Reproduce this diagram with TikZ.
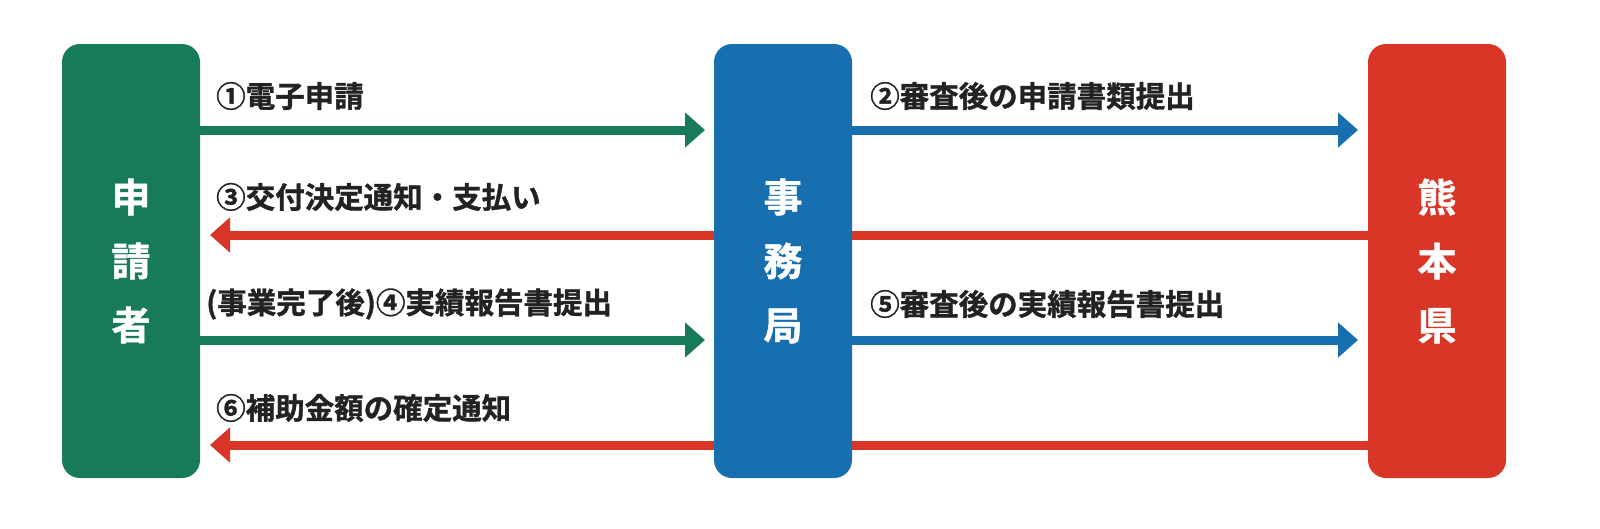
\documentclass[tikz,border=0pt]{standalone}
\usepackage{fontspec}
\setmainfont{Noto Sans CJK JP}[UprightFont=* Bold,UprightFeatures={FakeBold=1.2}]
\usetikzlibrary{arrows.meta}
\definecolor{cg}{HTML}{177A5A}
\definecolor{cb}{HTML}{186FAF}
\definecolor{cr}{HTML}{D93628}
\definecolor{tx}{HTML}{222222}
\begin{document}
\begin{tikzpicture}[x=1pt,y=-1pt,
  box/.style={rounded corners=18pt,minimum width=138pt,minimum height=434pt,inner sep=0pt,text=white,font=\fontsize{39}{64}\selectfont,align=center},
  arr/.style={line width=9pt,-{Triangle[width=34pt,length=20pt]}},
  lab/.style={anchor=west,text=tx,font=\fontsize{29.5}{34}\selectfont,inner sep=0pt}]
\useasboundingbox (0,0) rectangle (1600,528);
\coordinate (r2s) at (1368,235); \coordinate (r2e) at (210,235);
\coordinate (r4s) at (1368,445); \coordinate (r4e) at (210,445);
\draw[arr,cr] (r2s) -- (r2e);
\draw[arr,cr] (r4s) -- (r4e);
\node[box,fill=cg] (a) at (131,261) {申\\請\\者};
\node[box,fill=cb] (b) at (783,261) {事\\務\\局};
\node[box,fill=cr] (c) at (1437,261) {熊\\本\\県};
\draw[arr,cg] (a.east|-0,130) -- (705,130) coordinate (t1);
\draw[arr,cg] (a.east|-0,340) -- (705,340) coordinate (t3);
\draw[arr,cb] (b.east|-0,130) -- (1358,130) coordinate (t2);
\draw[arr,cb] (b.east|-0,340) -- (1358,340) coordinate (t5);
\node[lab] (l1) at (216,96) {①電子申請};
\node[lab] (l2) at (870,96) {②審査後の申請書類提出};
\node[lab] (l3) at (216,197) {③交付決定通知・支払い};
\node[lab] (l4) at (206,304) {(事業完了後)④実績報告書提出};
\node[lab] (l5) at (870,304) {⑤審査後の実績報告書提出};
\node[lab] (l6) at (216,408) {⑥補助金額の確定通知};
\end{tikzpicture}
\end{document}
